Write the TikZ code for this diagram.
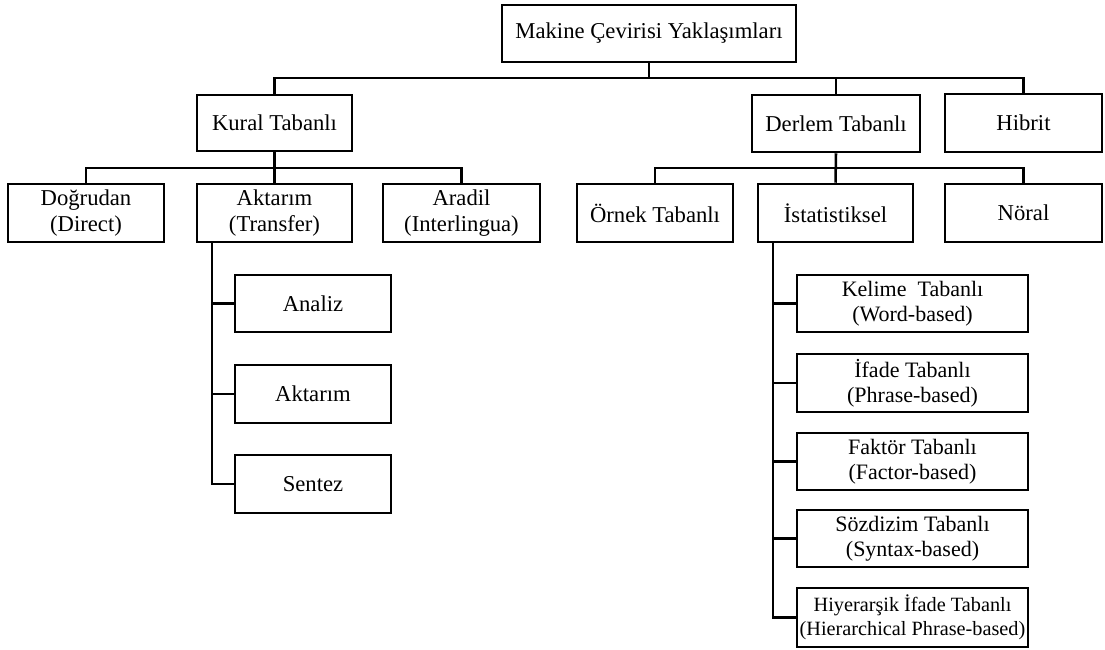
\documentclass[tikz,border=0pt]{standalone}
\usepackage{fontspec}
\setmainfont{Liberation Serif}
\begin{document}
\begin{tikzpicture}[x=0.75pt,y=-0.75pt,
  box/.style={draw, line width=1.9pt, inner sep=0pt, align=center,
    font=\fontsize{17}{19}\selectfont},
  small/.style={font=\fontsize{16.5}{18.5}\selectfont},
  tiny/.style={font=\fontsize{15.2}{18}\selectfont},
  sz/.style 2 args={minimum width=#1*0.75pt, minimum height=#2*0.75pt},
  link/.style={line width=1.9pt}]
\useasboundingbox (0,0) rectangle (1105,649);

% top level
\node[box, sz={294}{57}] (root) at (649,33.5) {Makine Çevirisi Yaklaşımları};

% first level
\node[box, sz={155}{56}] (kural)  at (274.5,123) {Kural Tabanlı};
\node[box, sz={168}{57}] (derlem) at (836,123.5) {Derlem Tabanlı};
\node[box, sz={157}{58}] (hibrit) at (1023.5,123) {Hibrit};

% second level, rule based
\node[box, sz={156}{58}] (dogrudan) at (86,213)    {Doğrudan\\(Direct)};
\node[box, sz={155}{58}] (aktarim)  at (274.5,213) {Aktarım\\(Transfer)};
\node[box, sz={157}{58}] (aradil)   at (461.5,213) {Aradil\\(Interlingua)};

% second level, corpus based
\node[box, sz={156}{58}] (ornek)  at (655,213)    {Örnek Tabanlı};
\node[box, sz={155}{58}] (istat)  at (835.5,213)  {İstatistiksel};
\node[box, sz={157}{58}] (noral)  at (1023.5,213) {Nöral};

% transfer stages
\node[box, sz={156}{57}] (analiz)   at (313,303.5) {Analiz};
\node[box, sz={156}{58}] (aktarim2) at (313,394)   {Aktarım};
\node[box, sz={156}{58}] (sentez)   at (313,484)   {Sentez};

% statistical models
\node[box, small, sz={231}{57}] (kelime)   at (912.5,303.5) {Kelime~ Tabanlı\\(Word-based)};
\node[box, small, sz={231}{58}] (ifade)    at (912.5,383)   {İfade Tabanlı\\(Phrase-based)};
\node[box, small, sz={231}{57}] (faktor)   at (912.5,461.5) {Faktör Tabanlı\\(Factor-based)};
\node[box, small, sz={231}{57}] (sozdizim) at (912.5,538.5) {Sözdizim Tabanlı\\(Syntax-based)};
\node[box, tiny,  sz={231}{59}] (hiyer)    at (912.5,617.5) {Hiyerarşik İfade Tabanlı\\(Hierarchical Phrase-based)};

% bus levels and trunks
\coordinate (b1) at (649,78);
\coordinate (b2) at (274.5,168);
\coordinate (b3) at (836,168);
\coordinate (t1) at (212,0);
\coordinate (t2) at (773,0);

% root to first level
\draw[link] (root.south) -- (root.south|-b1);
\draw[link] (kural.north) -- (kural.north|-b1) -- (hibrit.north|-b1) -- (hibrit.north);
\draw[link] (derlem.north) -- (derlem.north|-b1);

% rule based branches
\draw[link] (kural.south) -- (aktarim.north);
\draw[link] (dogrudan.north) -- (dogrudan.north|-b2) -- (aradil.north|-b2) -- (aradil.north);

% corpus based branches
\draw[link] (derlem.south) -- (istat.north);
\draw[link] (ornek.north) -- (ornek.north|-b3) -- (noral.north|-b3) -- (noral.north);

% transfer trunk
\draw[link] (aktarim.south-|t1) -- (sentez.west-|t1) -- (sentez.west);
\draw[link] (analiz.west-|t1) -- (analiz.west);
\draw[link] (aktarim2.west-|t1) -- (aktarim2.west);

% statistical trunk
\draw[link] (istat.south-|t2) -- (hiyer.west-|t2) -- (hiyer.west);
\draw[link] (kelime.west-|t2) -- (kelime.west);
\draw[link] (ifade.west-|t2) -- (ifade.west);
\draw[link] (faktor.west-|t2) -- (faktor.west);
\draw[link] (sozdizim.west-|t2) -- (sozdizim.west);
\end{tikzpicture}
\end{document}
